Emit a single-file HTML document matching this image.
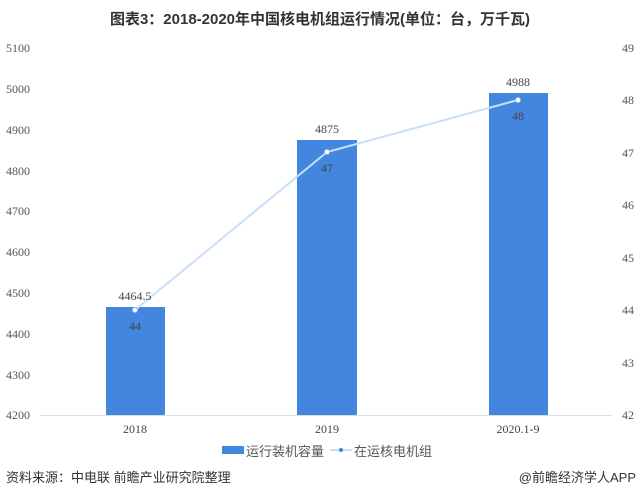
<!DOCTYPE html>
<html><head><meta charset="utf-8"><style>
body{margin:0;background:#fff;width:640px;height:497px;overflow:hidden;font-family:"Liberation Sans","Noto Sans CJK SC",sans-serif}
</style></head><body>
<svg width="640" height="497" xmlns="http://www.w3.org/2000/svg">
<text x="320" y="24" text-anchor="middle" font-size="15" font-weight="bold" fill="#333" font-family="Liberation Sans,Noto Sans CJK SC,sans-serif">图表3：2018-2020年中国核电机组运行情况(单位：台，万千瓦)</text>
<g font-family="Liberation Serif,serif" font-size="12" fill="#555">
<text x="6" y="52">5100</text><text x="6" y="93">5000</text><text x="6" y="134">4900</text><text x="6" y="175">4800</text><text x="6" y="215">4700</text><text x="6" y="256">4600</text><text x="6" y="297">4500</text><text x="6" y="338">4400</text><text x="6" y="379">4300</text><text x="6" y="419">4200</text>
<text x="622" y="52">49</text><text x="622" y="104">48</text><text x="622" y="157">47</text><text x="622" y="209">46</text><text x="622" y="262">45</text><text x="622" y="314">44</text><text x="622" y="367">43</text><text x="622" y="419">42</text>
</g>
<line x1="40" y1="415.5" x2="612" y2="415.5" stroke="#ddd"/>
<g fill="#4286e0">
<rect x="106" y="307" width="59" height="108"/>
<rect x="297" y="140" width="60" height="275"/>
<rect x="489" y="93" width="59" height="322"/>
</g>
<polyline points="135,310 327,152 518,100" fill="none" stroke="#c9defa" stroke-width="2"/>
<g fill="#fff" stroke="#9cc0f0"><circle cx="135" cy="310" r="2.5"/><circle cx="327" cy="152" r="2.5"/><circle cx="518" cy="100" r="2.5"/></g>
<g font-family="Liberation Serif,serif" font-size="12" fill="#444" text-anchor="middle">
<text x="135" y="300">4464.5</text><text x="327" y="133">4875</text><text x="518" y="86">4988</text>
<text x="135" y="330">44</text><text x="327" y="172">47</text><text x="518" y="120">48</text>
<text x="135" y="433">2018</text><text x="327" y="433">2019</text><text x="518" y="433">2020.1-9</text>
</g>
<rect x="222" y="446" width="22" height="8" fill="#4286e0"/>
<text x="246" y="456" font-size="13" fill="#555">运行装机容量</text>
<line x1="330" y1="450" x2="352" y2="450" stroke="#c9defa" stroke-width="2"/><circle cx="341" cy="450" r="2" fill="#4286e0"/>
<text x="354" y="456" font-size="13" fill="#555">在运核电机组</text>
<text x="6" y="482" font-size="13" fill="#333">资料来源：中电联 前瞻产业研究院整理</text>
<text x="636" y="482" font-size="13" fill="#333" text-anchor="end">@前瞻经济学人APP</text>
</svg>
</body></html>
